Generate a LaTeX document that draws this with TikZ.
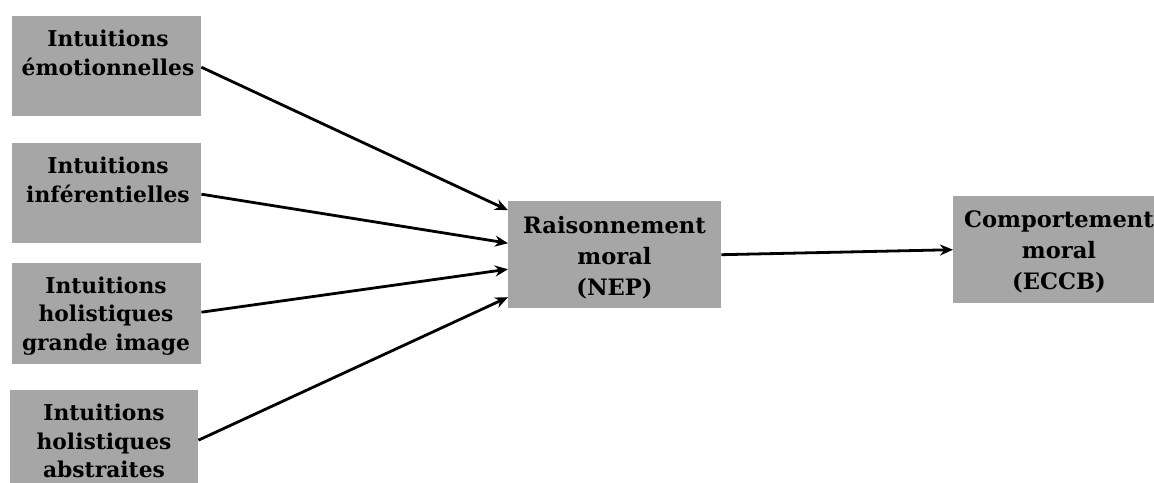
\documentclass[tikz,border=0pt]{standalone}
\usepackage{fontspec}
\setmainfont{DejaVu Serif}
\usetikzlibrary{arrows.meta}
\definecolor{boxgray}{RGB}{166,166,166}
\begin{document}
\begin{tikzpicture}[x=1pt,y=-1pt,
 box/.style={fill=boxgray, draw=none, inner sep=0pt, anchor=north west},
 lbl/.style={font=\bfseries\fontsize{21.8}{28.5}\selectfont, align=center, inner sep=0pt, text=black},
 lblr/.style={font=\bfseries\fontsize{22.6}{31}\selectfont, align=center, inner sep=0pt, text=black},
 arr/.style={line width=2.8pt, -{Stealth[length=13pt,width=11pt]}}]
\useasboundingbox (0,0) rectangle (1154,482);
\clip (0,0) rectangle (1154,482);
\fill[white] (0,0) rectangle (1154,482);
\node[box, minimum width=189pt, minimum height=100pt] (b1) at (12,16) {};
\node[box, minimum width=189pt, minimum height=100pt] (b2) at (12,143) {};
\node[box, minimum width=189pt, minimum height=101pt] (b3) at (12,263) {};
\node[box, minimum width=188pt, minimum height=100pt] (b4) at (10,390) {};
\node[box, minimum width=213pt, minimum height=107pt] (r) at (508,201) {};
\node[box, minimum width=212pt, minimum height=107pt] (c) at (953,196) {};
\node[lbl] (t1) at (108,53) {Intuitions\\émotionnelles};
\node[lbl] (t2) at (108,180) {Intuitions\\inférentielles};
\node[lbl] (t3) at (106,316) {Intuitions\\holistiques\\grande image};
\node[lbl] (t4) at (104,441) {Intuitions\\holistiques\\abstraites};
\node[lblr] (tr) at (614.5,258) {Raisonnement\\moral\\(NEP)};
\node[lblr] (tc) at (1059,252) {Comportement\\moral\\(ECCB)};
\draw[arr] ([yshift=-1pt]b1.east) -- ([yshift=44.5pt]r.west);
\draw[arr] ([yshift=-1pt]b2.east) -- ([yshift=11.5pt]r.west);
\draw[arr] ([yshift=1.5pt]b3.east) -- ([yshift=-14.5pt]r.west);
\draw[arr] (b4.east) -- ([yshift=-42.5pt]r.west);
\draw[arr] (r.east) -- (c.west);
\end{tikzpicture}
\end{document}
